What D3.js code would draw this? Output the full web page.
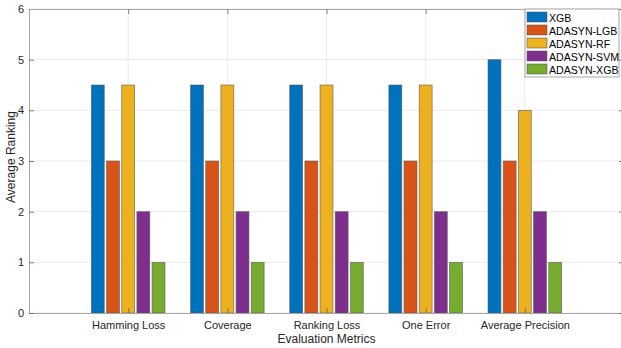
<!DOCTYPE html>
<html><head><meta charset="utf-8">
<script src="https://cdn.jsdelivr.net/npm/d3@7"></script>
<style>body{margin:0;background:#fff;}svg{display:block;font-family:"Liberation Sans",Arial,sans-serif;}</style>
</head><body>
<svg id="c" width="621" height="348"></svg>
<script>
const categories = ["Hamming Loss","Coverage","Ranking Loss","One Error","Average Precision"];
const seriesNames = ["XGB","ADASYN-LGB","ADASYN-RF","ADASYN-SVM","ADASYN-XGB"];
const XGB = [4.5,4.5,4.5,4.5,5];
const ADASYN_LGB = [3,3,3,3,3];
const ADASYN_RF = [4.5,4.5,4.5,4.5,4];
const ADASYN_SVM = [2,2,2,2,2];
const ADASYN_XGB = [1,1,1,1,1];
const seriesValues = [XGB, ADASYN_LGB, ADASYN_RF, ADASYN_SVM, ADASYN_XGB];
const colors = ["#0072BD","#D95319","#EDB120","#7E2F8E","#77AC30"];
const yTicks = [0,1,2,3,4,5,6];

const svg = d3.select("#c");
const L = 29, R = 624, T = 9, B = 313;
const x = d3.scaleLinear().domain([0,6]).range([L,R]);
const y = d3.scaleLinear().domain([0,6]).range([B,T]);

// grid
const g = svg.append("g");
g.selectAll(".gy").data(yTicks).join("line")
 .attr("x1",L).attr("x2",R).attr("y1",d=>y(d)).attr("y2",d=>y(d))
 .attr("stroke","#ebebeb").attr("stroke-width",1);
g.selectAll(".gx").data(categories).join("line")
 .attr("x1",(d,i)=>x(i+1)).attr("x2",(d,i)=>x(i+1)).attr("y1",T).attr("y2",B)
 .attr("stroke","#ebebeb").attr("stroke-width",1);

// bars
const off = 0.153, bw = 0.13;
seriesValues.forEach((vals,s)=>{
  svg.append("g").selectAll("rect").data(vals).join("rect")
   .attr("x",(d,i)=>x(i+1+(s-2)*off-bw/2))
   .attr("width",x(bw)-x(0))
   .attr("y",d=>y(d))
   .attr("height",d=>y(0)-y(d))
   .attr("fill",colors[s])
   .attr("stroke","#555").attr("stroke-opacity",0.7).attr("stroke-width",0.8);
});

// axes
const axB = svg.append("g").attr("transform",`translate(0,${B})`)
 .call(d3.axisBottom(x).tickValues([1,2,3,4,5]).tickFormat((d)=>categories[d-1]).tickSizeInner(-5).tickSizeOuter(0).tickPadding(8));
const axL = svg.append("g").attr("transform",`translate(${L},0)`)
 .call(d3.axisLeft(y).tickValues(yTicks).tickFormat(d3.format("d")).tickSizeInner(-5).tickSizeOuter(0).tickPadding(5));
const axT = svg.append("g").attr("transform",`translate(0,${T})`)
 .call(d3.axisTop(x).tickValues([1,2,3,4,5]).tickFormat("").tickSizeInner(-5).tickSizeOuter(0));
const axR = svg.append("g").attr("transform",`translate(${R},0)`)
 .call(d3.axisRight(y).tickValues(yTicks).tickFormat("").tickSizeInner(-5).tickSizeOuter(0));
[axB,axL,axT,axR].forEach(a=>{
  a.select(".domain").attr("stroke","#a6a6a6");
  a.selectAll(".tick line").attr("stroke","#666").attr("stroke-width",0.8);
  a.selectAll(".tick text").attr("fill","#262626").attr("font-size",11).attr("font-family","Liberation Sans, Arial, sans-serif");
});

// titles
svg.append("text").attr("x",(L+R)/2).attr("y",343).attr("text-anchor","middle")
 .attr("font-size",12).attr("fill","#262626").text("Evaluation Metrics");
svg.append("text").attr("transform",`translate(15,157) rotate(-90)`).attr("text-anchor","middle")
 .attr("font-size",12).attr("fill","#262626").text("Average Ranking");

// legend
const lx = 525, ly = 9, lw = 94, lh = 68;
const leg = svg.append("g");
leg.append("rect").attr("x",lx).attr("y",ly).attr("width",lw).attr("height",lh)
 .attr("fill","#fff").attr("stroke","#a6a6a6").attr("stroke-width",1);
seriesNames.forEach((n,i)=>{
  const yy = ly + 3 + i*13;
  leg.append("rect").attr("x",lx+2).attr("y",yy).attr("width",20).attr("height",10)
   .attr("fill",colors[i]).attr("stroke","#555").attr("stroke-opacity",0.7).attr("stroke-width",0.8);
  leg.append("text").attr("x",lx+24).attr("y",yy+9.5).attr("font-size",10.6).attr("fill","#000").text(n);
});
</script>
</body></html>
